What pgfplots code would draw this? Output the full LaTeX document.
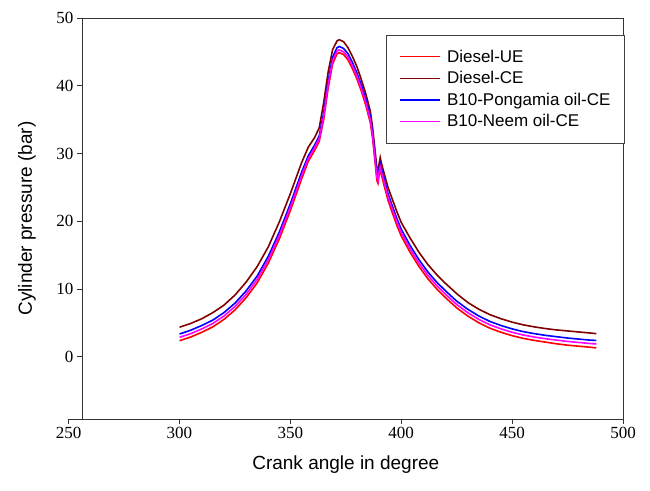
\documentclass[border=0pt]{standalone}
\usepackage{fontspec}
\setmainfont{Liberation Sans}
\newfontfamily\seriffont{Liberation Serif}
\usepackage{pgfplots}
\pgfplotsset{compat=1.18}
\definecolor{dieselue}{RGB}{255,0,0}
\definecolor{dieselce}{RGB}{128,0,0}
\definecolor{pongamia}{RGB}{0,0,255}
\definecolor{neem}{RGB}{255,0,255}

\begin{document}
\begin{tikzpicture}
\path[use as bounding box] (-68.6pt,-71pt) rectangle (581.4pt,419pt);

% x axis (runs from 250, left of the box)
\begin{axis}[
    scale only axis,
    width=554.4pt, height=401pt,
    at={(0pt,0pt)}, anchor=south west,
    xmin=250, xmax=500, ymin=0, ymax=1,
    axis x line=bottom, axis y line=none,
    x axis line style={-, line width=0.8pt, black!80},
    xtick={250,300,...,500},
    tick align=outside,
    major tick length=5pt,
    tick style={line width=0.8pt, black!80},
    tick label style={font=\seriffont\fontsize{17}{20}\selectfont},
    /pgf/number format/assume math mode=true,
    xlabel={Crank angle in degree},
    xlabel style={font=\fontsize{19}{22}\selectfont, at={(axis description cs:0.5,-0.1147)}, anchor=center},
]
\end{axis}

% main box
\begin{axis}[
    scale only axis,
    width=541pt, height=401pt,
    at={(13.4pt,0pt)}, anchor=south west,
    xmin=256, xmax=500,
    ymin=-9.2, ymax=50,
    xtick=\empty,
    ytick={0,10,20,30,40,50},
    ytick pos=left,
    tick align=outside,
    major tick length=5pt,
    axis line style={line width=0.8pt, black!80},
    tick style={line width=0.8pt, black!80},
    tick label style={font=\seriffont\fontsize{17}{20}\selectfont},
    /pgf/number format/assume math mode=true,
    ylabel={Cylinder pressure (bar)},
    ylabel style={font=\fontsize{19}{22}\selectfont, at={(axis description cs:-0.1017,0.5)}, anchor=center},
    legend style={at={(axis description cs:1.0035,0.958)}, anchor=north east,
        font=\fontsize{17}{20}\selectfont, draw=black!75, line width=0.8pt,
        inner xsep=12.5pt, inner ysep=13pt, row sep=4.8pt, column sep=5pt,
        nodes={inner sep=1.5pt}},
    legend cell align=left,
    legend image code/.code={\draw[#1, line width=1.3pt] (0pt,0pt) -- (40pt,0pt);},
    every axis plot/.append style={line width=1.6pt},
]

\addplot[draw=dieselue] coordinates {
(300,2.36)(305,2.9)(310,3.6)(315,4.4)(320,5.5)(325,6.9)(330,8.7)(335,10.9)(340,13.8)(345,17.4)
(350,21.6)(355,26.2)(358,28.8)(361,30.5)(363,31.8)(365,35.0)(367,39.6)(369,43.2)(371,44.7)(372,44.9)
(374,44.6)(376,43.8)(378,42.5)(380,41.0)(382,39.2)(384,37.1)(386,34.6)(387,32.4)(388,29.3)(389,26.0)
(389.5,25.6)(390,26.8)(390.5,27.6)(391,26.9)(392,25.6)(394,23.1)(396,21.2)(398,19.4)(400,17.8)(404,15.4)
(408,13.3)(412,11.5)(416,10.0)(420,8.7)(425,7.2)(430,6.0)(435,5.0)(440,4.2)(445,3.6)(450,3.1)
(455,2.7)(460,2.4)(465,2.15)(470,1.9)(475,1.7)(480,1.55)(485,1.4)(488,1.3)
};
\addlegendentry{Diesel-UE}

\addplot[draw=dieselce] coordinates {
(300,4.35)(305,4.9)(310,5.6)(315,6.5)(320,7.6)(325,9.1)(330,11.0)(335,13.3)(340,16.2)(345,19.9)
(350,24.1)(355,28.6)(358,30.9)(361,32.4)(363,33.8)(365,37.5)(367,42.0)(369,45.3)(371,46.6)(372,46.8)
(374,46.5)(376,45.6)(378,44.3)(380,42.8)(382,40.9)(384,38.8)(386,36.3)(387,34.0)(388,31.0)(389,27.8)
(389.5,27.2)(390,28.5)(390.5,29.4)(391,28.6)(392,27.4)(394,25.0)(396,23.2)(398,21.4)(400,19.8)(404,17.5)
(408,15.4)(412,13.6)(416,12.1)(420,10.8)(425,9.3)(430,8.0)(435,7.0)(440,6.2)(445,5.6)(450,5.1)
(455,4.7)(460,4.4)(465,4.15)(470,3.95)(475,3.8)(480,3.65)(485,3.5)(488,3.4)
};
\addlegendentry{Diesel-CE}

\addplot[draw=pongamia] coordinates {
(300,3.35)(305,3.9)(310,4.6)(315,5.4)(320,6.5)(325,7.9)(330,9.7)(335,11.9)(340,14.8)(345,18.4)
(350,22.6)(355,27.2)(358,29.6)(361,31.3)(363,32.6)(365,36.0)(367,40.6)(369,44.2)(371,45.6)(372,45.8)
(374,45.5)(376,44.7)(378,43.4)(380,41.9)(382,40.1)(384,38.0)(386,35.5)(387,33.3)(388,30.2)(389,27.0)
(389.5,26.5)(390,27.8)(390.5,28.5)(391,27.8)(392,26.6)(394,24.1)(396,22.2)(398,20.4)(400,18.8)(404,16.4)
(408,14.3)(412,12.5)(416,11.0)(420,9.7)(425,8.2)(430,7.0)(435,6.0)(440,5.2)(445,4.6)(450,4.1)
(455,3.7)(460,3.4)(465,3.15)(470,2.95)(475,2.75)(480,2.6)(485,2.45)(488,2.4)
};
\addlegendentry{B10-Pongamia oil-CE}

\addplot[draw=neem] coordinates {
(300,2.86)(305,3.4)(310,4.1)(315,4.9)(320,6.0)(325,7.4)(330,9.2)(335,11.4)(340,14.3)(345,17.9)
(350,22.1)(355,26.7)(358,29.2)(361,30.9)(363,32.2)(365,35.5)(367,40.1)(369,43.7)(371,45.1)(372,45.3)
(374,45.0)(376,44.2)(378,42.9)(380,41.4)(382,39.6)(384,37.5)(386,35.0)(387,32.8)(388,29.7)(389,26.5)
(389.5,26.0)(390,27.2)(390.5,28.0)(391,27.3)(392,26.1)(394,23.6)(396,21.7)(398,19.9)(400,18.3)(404,15.9)
(408,13.8)(412,12.0)(416,10.5)(420,9.2)(425,7.7)(430,6.5)(435,5.5)(440,4.7)(445,4.1)(450,3.6)
(455,3.2)(460,2.9)(465,2.65)(470,2.45)(475,2.25)(480,2.1)(485,1.95)(488,1.87)
};
\addlegendentry{B10-Neem oil-CE}

\end{axis}
\end{tikzpicture}
\end{document}
